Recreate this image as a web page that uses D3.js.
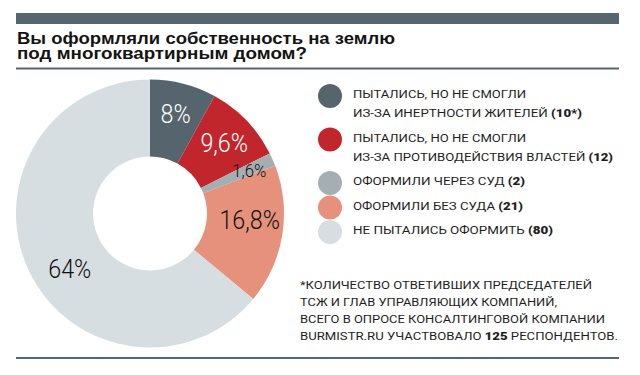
<!DOCTYPE html>
<meta charset="utf-8">
<style>
	body { margin: 0; background: #fff; }
	svg { display: block; }
	.title { font-family: "Liberation Sans", Arial, sans-serif; font-weight: 700; font-size: 16.5px; fill: #141414; }
	.legend-text, .note { font-family: Roboto, "Noto Sans", sans-serif; font-size: 11.5px; fill: #1e1e1e; }
	.pct { font-family: Roboto, sans-serif; font-weight: 300; }
</style>
<div id="chart"></div>
<script src="https://cdn.jsdelivr.net/npm/d3@7"></script>
<script>

// ---- Data ----
const titleLines = ["Вы оформляли собственность на землю", "под многоквартирным домом?"];
const categories = [
	["ПЫТАЛИСЬ, НО НЕ СМОГЛИ", "ИЗ-ЗА ИНЕРТНОСТИ ЖИТЕЛЕЙ"],
	["ПЫТАЛИСЬ, НО НЕ СМОГЛИ", "ИЗ-ЗА ПРОТИВОДЕЙСТВИЯ ВЛАСТЕЙ"],
	["ОФОРМИЛИ ЧЕРЕЗ СУД "],
	["ОФОРМИЛИ БЕЗ СУДА "],
	["НЕ ПЫТАЛИСЬ ОФОРМИТЬ "]
];
const counts = ["10*", "12", "2", "21", "80"];
const shares = [8, 9.6, 1.6, 16.8, 64];
const shareLabels = ["8%", "9,6%", "1,6%", "16,8%", "64%"];
const noteLines = [
	["*КОЛИЧЕСТВО ОТВЕТИВШИХ ПРЕДСЕДАТЕЛЕЙ"],
	["ТСЖ И ГЛАВ УПРАВЛЯЮЩИХ КОМПАНИЙ,"],
	["ВСЕГО В ОПРОСЕ КОНСАЛТИНГОВОЙ КОМПАНИИ"],
	["BURMISTR.RU УЧАСТВОВАЛО ", "125", " РЕСПОНДЕНТОВ."]
];

// ---- Setup ----
const width = 640, height = 375;
const colors = ["#56656d", "#c1262c", "#a5aeb3", "#e5917b", "#d6dee1"];
const ruleColor = "#56666f";

const svg = d3.select("#chart").append("svg")
	.attr("width", width)
	.attr("height", height);

// top bar + rules
svg.append("rect").attr("x", 16).attr("y", 13).attr("width", 603).attr("height", 11).attr("fill", ruleColor);
svg.append("rect").attr("x", 16).attr("y", 67.5).attr("width", 603).attr("height", 2).attr("fill", ruleColor);
svg.append("rect").attr("x", 16).attr("y", 357).attr("width", 603).attr("height", 2).attr("fill", ruleColor);

// title
const titleWidths = [378, 290];
svg.selectAll(".title")
	.data(titleLines)
	.enter().append("text")
	.attr("class", "title")
	.attr("x", 17)
	.attr("y", (d, i) => 44 + i * 15)
	.attr("textLength", (d, i) => titleWidths[i])
	.attr("lengthAdjust", "spacingAndGlyphs")
	.text(d => d);

// ---- Donut ----
const cx = 150, cy = 213.5;
const pie = d3.pie().sort(null).value(d => d);
const arc = d3.arc().innerRadius(57).outerRadius(134);
const labelArc = d3.arc().innerRadius(103).outerRadius(103);
const arcs = pie(shares);

const donut = svg.append("g").attr("transform", "translate(" + cx + "," + cy + ")");
donut.selectAll("path")
	.data(arcs)
	.enter().append("path")
	.attr("d", arc)
	.attr("fill", (d, i) => colors[i]);

// small hand tweaks, like the designer did
const labelShift = { 2: [5, -2], 3: [-2, -11], 4: [13, 11] };
donut.selectAll(".pct")
	.data(arcs)
	.enter().append("text")
	.attr("class", "pct")
	.attr("transform", (d, i) => {
		let c = labelArc.centroid(d);
		let s = labelShift[i] || [0, 0];
		return "translate(" + (c[0] + s[0]) + "," + (c[1] + s[1]) + ") scale(0.88,1)";
	})
	.attr("text-anchor", "middle")
	.attr("dy", "0.36em")
	.style("font-size", (d, i) => (shares[i] < 3 ? "19px" : "26.5px"))
	.attr("fill", (d, i) => (i < 2 ? "#fff" : "#111"))
	.text((d, i) => shareLabels[i]);

// ---- Legend ----
const legendX = 353;
const lastLineWidths = [229, 260, 172, 170, 200];
const firstLineWidth = 173;
let yb = 98;
categories.forEach((lines, i) => {
	const g = svg.append("g");
	g.append("circle")
		.attr("cx", 330)
		.attr("cy", yb - 2)
		.attr("r", 12)
		.attr("fill", colors[i]);
	lines.forEach((line, j) => {
		const last = j === lines.length - 1;
		const t = g.append("text")
			.attr("class", "legend-text")
			.attr("x", legendX)
			.attr("y", yb)
			.attr("textLength", last ? lastLineWidths[i] : firstLineWidth)
			.attr("lengthAdjust", "spacingAndGlyphs");
		t.append("tspan").text(line + " ");
		if (last) {
			t.append("tspan").style("font-weight", 900).text("(" + counts[i] + ")");
			yb += 24.5;
		} else {
			yb += 19;
		}
	});
});

// ---- Footnote ----
const noteWidths = [292, 257, 305, 318];
noteLines.forEach((parts, i) => {
	const t = svg.append("text")
		.attr("class", "note")
		.attr("x", 300)
		.attr("y", 289 + i * 17)
		.attr("textLength", noteWidths[i])
		.attr("lengthAdjust", "spacingAndGlyphs");
	parts.forEach((p, j) => {
		t.append("tspan")
			.style("font-weight", j === 1 ? 900 : 400)
			.text(p);
	});
});
</script>
